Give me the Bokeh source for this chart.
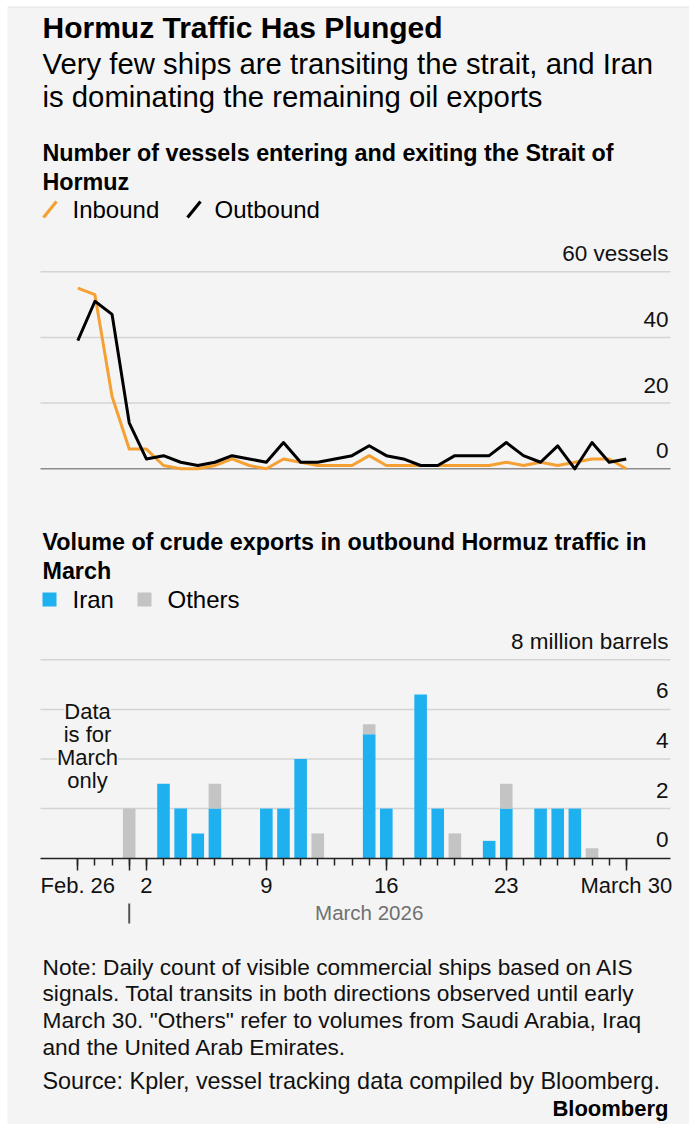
from bokeh.plotting import figure
from bokeh.models import Range1d, FixedTicker, LinearAxis, Label
from bokeh.core.properties import value
from bokeh.embed import file_html
from bokeh.resources import INLINE

# ---------------- data ----------------
day_names = ["Feb. 26", "Feb. 27", "Feb. 28"] + ["Mar. %d" % d for d in range(1, 31)]
day_index = list(range(len(day_names)))  # 0 = Feb. 26

inbound = [55, 53, 22, 6, 6, 1, 0, 0, 1, 3, 1, 0, 3, 2, 1, 1, 1, 4, 1, 1, 1, 1, 1,
           1, 1, 2, 1, 2, 1, 2, 3, 3, 0]
outbound = [39, 51, 47, 14, 3, 4, 2, 1, 2, 4, 3, 2, 8, 2, 2, 3, 4, 7, 4, 3, 1, 1, 4,
            4, 4, 8, 4, 2, 7, 0, 8, 2, 3]

march_days = list(range(1, 31))
iran = [0, 0, 3, 2, 1, 2, 0, 0, 2, 2, 4, 0, 0, 0, 5, 2, 0, 6.6, 2, 0, 0, 0.7, 2, 0,
        2, 2, 2, 0, 0, 0]
others = [2, 0, 0, 0, 0, 1, 0, 0, 0, 0, 0, 1, 0, 0, 0.4, 0, 0, 0, 0, 1, 0, 0, 1, 0,
          0, 0, 0, 0.4, 0, 0]

x_tick_pos = [0, 3, 4, 11, 18, 25, 32]
x_tick_text = ["Feb. 26", "", "2", "9", "16", "23", "March 30"]
month_boundary = 3      # March 1
month_label_pos = 17    # mid-March
y1_ticks = [0, 20, 40, 60]
y1_text = ["0", "20", "40", "60 vessels"]
y2_ticks = [0, 2, 4, 6, 8]
y2_text = ["0", "2", "4", "6", "8 million barrels"]

# ---------------- layout constants (page pixels) ----------------
BG = "#f4f4f4"
FONT = "Liberation Sans"
ORANGE = "#f5a033"
BLUE = "#1fb0ef"
GRAY = "#c4c4c4"
GRID = "#d4d4d4"
W, H = 689, 1124
FL, FT = 7, 6                       # frame left / top inside the page

DAY0_PX, PX_DAY = 77.3, 17.14      # x of Feb. 26, pixels per day
V_ZERO, V_PX = 468.3, 3.285        # chart 1 baseline, pixels per vessel
B_ZERO, B_PX = 857.7, 24.8         # chart 2 baseline, pixels per million barrels
CHART_L, CHART_R = 40, 670


def to_day(px):
    return (px - DAY0_PX) / PX_DAY


CX0, CX1 = to_day(CHART_L), to_day(CHART_R)

p = figure(width=W, height=H, x_range=Range1d(FL, W), y_range=Range1d(H, FT),
           x_axis_type=None, y_axis_type=None, toolbar_location=None,
           output_backend="svg", min_border_left=FL, min_border_top=FT,
           min_border_right=0, min_border_bottom=0,
           background_fill_color=BG, border_fill_color="#ffffff",
           outline_line_color=None)
p.extra_x_ranges = {"days": Range1d(to_day(FL), to_day(W))}
p.extra_y_ranges = {
    "vessels": Range1d((V_ZERO - H) / V_PX, (V_ZERO - FT) / V_PX),
    "barrels": Range1d((B_ZERO - H) / B_PX, (B_ZERO - FT) / B_PX),
}


def txt(x, y, s, size, bold=False, color="#000000", align="left"):
    p.text(x=[x], y=[y], text=[s], text_font=value(FONT),
           text_font_size=value("%.1fpx" % size),
           text_font_style="bold" if bold else "normal",
           text_color=color, text_align=align, text_baseline="middle")


# top hairline of the card
p.segment(x0=[FL], x1=[W], y0=[FT + 0.5], y1=[FT + 0.5], line_color="#e2e2e2", line_width=1)

# ---------------- header ----------------
txt(42, 27, "Hormuz Traffic Has Plunged", 30, bold=True)
txt(42, 63, "Very few ships are transiting the strait, and Iran", 29.3)
txt(42, 96, "is dominating the remaining oil exports", 29.3)
txt(42, 152, "Number of vessels entering and exiting the Strait of", 23.3, bold=True)
txt(42, 181, "Hormuz", 23.3, bold=True)
p.segment(x0=[43], y0=[217], x1=[56], y1=[201], line_color=ORANGE, line_width=3.2)
txt(72, 209, "Inbound", 24)
p.segment(x0=[187], y0=[217], x1=[200], y1=[201], line_color="#000000", line_width=3.2)
txt(214, 209, "Outbound", 24)

# ---------------- chart 1 ----------------
g1 = y1_ticks[1:]
p.segment(x0=[CX0] * len(g1), x1=[CX1] * len(g1), y0=g1, y1=g1,
          x_range_name="days", y_range_name="vessels", line_color=GRID, line_width=1.5)
p.segment(x0=[CX0], x1=[CX1], y0=[0], y1=[0], x_range_name="days",
          y_range_name="vessels", line_color="#8c8c8c", line_width=1.5)
p.line(day_index, inbound, x_range_name="days", y_range_name="vessels",
       line_color=ORANGE, line_width=3, line_join="round")
p.line(day_index, outbound, x_range_name="days", y_range_name="vessels",
       line_color="#000000", line_width=3, line_join="round")
p.text(x=[CX1] * len(y1_ticks), y=y1_ticks, text=y1_text, x_range_name="days",
       y_range_name="vessels", text_font=value(FONT), text_font_size=value("22.5px"),
       text_color="#111111", text_align="right", text_baseline="middle",
       y_offset=-18, x_offset=-2)

# ---------------- chart 2 header ----------------
txt(42, 541, "Volume of crude exports in outbound Hormuz traffic in", 23.3, bold=True)
txt(42, 570, "March", 23.3, bold=True)
p.quad(left=[42], right=[56], top=[592], bottom=[606], fill_color=BLUE, line_color=None)
txt(72, 599, "Iran", 24)
p.quad(left=[137], right=[151], top=[592], bottom=[606], fill_color=GRAY, line_color=None)
txt(167, 599, "Others", 24)

# ---------------- chart 2 ----------------
g2 = y2_ticks[1:]
p.segment(x0=[CX0] * len(g2), x1=[CX1] * len(g2), y0=g2, y1=g2,
          x_range_name="days", y_range_name="barrels", line_color=GRID, line_width=1.5)
bx = [d + 2 for d in march_days]
tot = [a + b for a, b in zip(iran, others)]
p.vbar(x=bx, width=0.735, bottom=0, top=iran, x_range_name="days",
       y_range_name="barrels", fill_color=BLUE, line_color=None)
p.vbar(x=bx, width=0.735, bottom=iran, top=tot, x_range_name="days",
       y_range_name="barrels", fill_color=GRAY, line_color=None)
p.text(x=[CX1] * len(y2_ticks), y=y2_ticks, text=y2_text, x_range_name="days",
       y_range_name="barrels", text_font=value(FONT), text_font_size=value("22.5px"),
       text_color="#111111", text_align="right", text_baseline="middle",
       y_offset=-18.5, x_offset=-2)

ax = LinearAxis(x_range_name="days", y_range_name="barrels", fixed_location=0,
                bounds=(CX0, CX1),
                ticker=FixedTicker(ticks=x_tick_pos, minor_ticks=day_index),
                major_label_overrides={k: v for k, v in zip(x_tick_pos, x_tick_text)},
                axis_line_color="#222222", axis_line_width=1.5,
                major_tick_out=12, major_tick_in=0, minor_tick_out=7, minor_tick_in=0,
                major_tick_line_color="#222222", major_tick_line_width=1.5,
                minor_tick_line_color="#222222", minor_tick_line_width=1.5,
                major_label_text_font=FONT, major_label_text_font_size="22px",
                major_label_text_color="#111111", major_label_standoff=3)
p.add_layout(ax, "below")

p.segment(x0=[month_boundary], x1=[month_boundary], y0=[903], y1=[923],
          x_range_name="days", line_color="#555555", line_width=2)
p.text(x=[month_label_pos], y=[912], text=["March 2026"], x_range_name="days",
       text_font=value(FONT), text_font_size=value("20.5px"), text_color="#707070",
       text_align="center", text_baseline="middle")

for line, py in zip(["Data", "is for", "March", "only"], [711, 734, 757, 780]):
    p.add_layout(Label(x=to_day(87), y=py, x_range_name="days", text=line,
                       text_font=FONT, text_font_size="22px", text_color="#111111",
                       text_align="center", text_baseline="middle",
                       background_fill_color=BG))

# ---------------- footer ----------------
notes = ["Note: Daily count of visible commercial ships based on AIS",
         "signals. Total transits in both directions observed until early",
         "March 30. \"Others\" refer to volumes from Saudi Arabia, Iraq",
         "and the United Arab Emirates."]
for i, s in enumerate(notes):
    txt(42, 966 + 26.8 * i, s, 22.7, color="#111111")
txt(42, 1080, "Source: Kpler, vessel tracking data compiled by Bloomberg.", 23.4, color="#111111")
txt(668, 1108, "Bloomberg", 22, bold=True, align="right")

open("out.html", "w").write(file_html(p, INLINE))
